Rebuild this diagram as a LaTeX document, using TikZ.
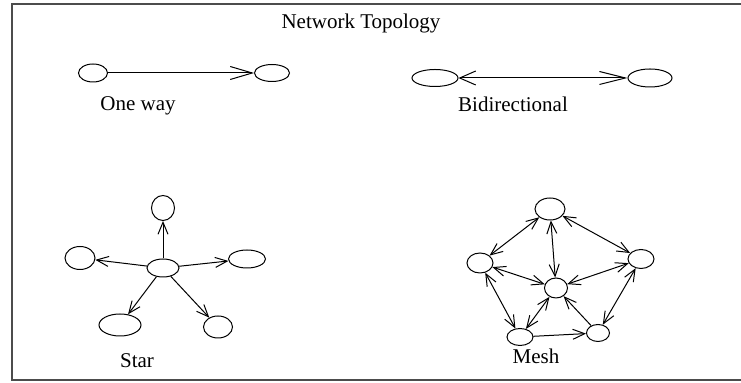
\documentclass[tikz,border=0pt]{standalone}
\usepackage{fontspec}
\setmainfont{Liberation Serif}
\usetikzlibrary{shapes.geometric,arrows.meta}
\begin{document}
\begin{tikzpicture}[
  x=0.5pt, y=-0.5pt,
  line width=0.5pt,
  every node/.style={font=\fontsize{10.5}{12}\selectfont},
  host/.style 2 args={draw, ellipse, inner sep=0pt, minimum width=#1, minimum height=#2},
  link/.style={-{Straight Barb[length=6pt,width=5pt]}},
  both/.style={{Straight Barb[length=6pt,width=5pt]}-{Straight Barb[length=6pt,width=5pt]}},
  longlink/.style={-{Straight Barb[length=11pt,width=6.5pt]}},
  longboth/.style={{Straight Barb[length=8pt,width=7pt]}-{Straight Barb[length=13pt,width=6.5pt]}}
]
\useasboundingbox (0,0) rectangle (741,383);
\draw[gray!60!black, line width=1pt] (741,4.5) -- (12,4.5) -- (12,380) -- (741,380);

\node (title) at (361,23) {Network Topology};

% one way
\node[host={14.5pt}{9pt}] (ow1) at (93,73) {};
\node[host={17.5pt}{8.5pt}] (ow2) at (272,73) {};
\draw[longlink] (ow1) -- (ow2);
\node (oneway) at (138,106) {One way};

% bidirectional
\node[host={23pt}{8.5pt}] (bd1) at (435,78) {};
\node[host={22pt}{9pt}] (bd2) at (650,78) {};
\draw[longboth] (bd1) -- (bd2);
\node (bidir) at (513,104) {Bidirectional};

% star
\node[host={16pt}{9pt}] (S) at (163,268) {};
\node[host={11.5pt}{12.5pt}] (S1) at (163,208) {};
\node[host={15pt}{11.5pt}] (S2) at (80,258) {};
\node[host={18.5pt}{9pt}] (S3) at (247,259) {};
\node[host={21pt}{11pt}] (S4) at (120,325) {};
\node[host={14.5pt}{11pt}] (S5) at (218,327) {};
\foreach \n in {S1,S2,S3,S4,S5}
  \draw[link] (S) -- (\n);
\node (star) at (137,361) {Star};

% mesh
\node[host={15pt}{11pt}] (M1) at (550,209) {};
\node[host={13pt}{10pt}] (M2) at (480,263) {};
\node[host={13pt}{9.5pt}] (M3) at (641,259) {};
\node[host={11.5pt}{10pt}] (M4) at (556,288) {};
\node[host={13pt}{8.5pt}] (M5) at (520,337) {};
\node[host={11.5pt}{8.5pt}] (M6) at (598,333) {};
\foreach \a/\b in {M1/M2,M1/M4,M1/M3,M2/M4,M3/M4,M2/M5,M3/M6,M4/M5}
  \draw[both] (\a) -- (\b);
\draw[link] (M5) -- (M6);
\draw[link] (M6) -- (M4);
\node (mesh) at (536,356) {Mesh};
\end{tikzpicture}
\end{document}
